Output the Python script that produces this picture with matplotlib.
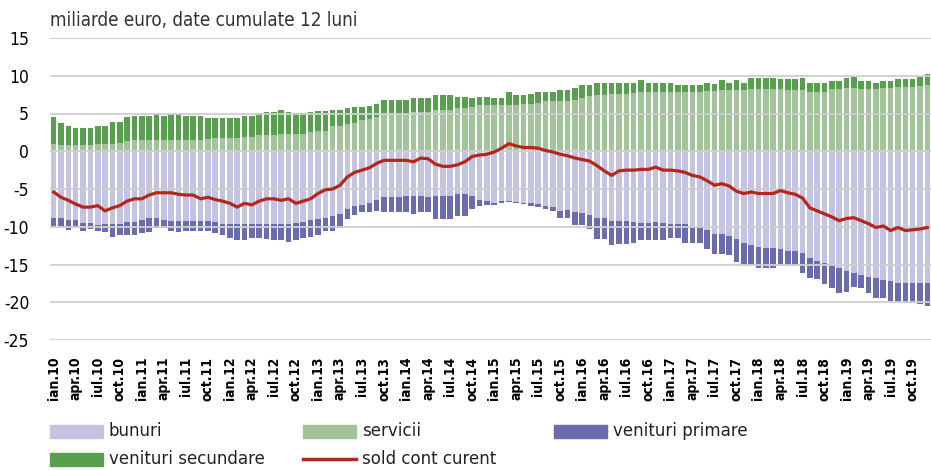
import os
import matplotlib
matplotlib.use("Agg")
import matplotlib.pyplot as plt
from matplotlib import font_manager
from matplotlib.font_manager import FontProperties
from matplotlib.patches import Rectangle
from matplotlib.lines import Line2D
import numpy as np

plt.rcParams["axes.unicode_minus"] = False

# monthly data, ian.2010 - dec.2019, miliarde euro (12-month cumulated)
years = list(range(10, 20))
month_abbr = ["ian", "feb", "mar", "apr", "mai", "iun", "iul", "aug", "sep", "oct", "nov", "dec"]
months = [f"{m}.{y}" for y in years for m in month_abbr]

bunuri = [
    -8.8, -8.8, -9.1, -9.1, -9.5, -9.5, -9.8, -9.6, -9.6, -9.6, -9.4, -9.4,
    -9.1, -8.9, -8.9, -9.1, -9.2, -9.2, -9.2, -9.2, -9.2, -9.3, -9.4, -9.6,
    -9.7, -9.7, -9.7, -9.6, -9.6, -9.6, -9.7, -9.6, -9.7, -9.5, -9.4, -9.1,
    -9.0, -8.8, -8.6, -8.3, -7.6, -7.3, -7.1, -6.8, -6.5, -6.1, -6.1, -6.0,
    -5.9, -5.9, -5.9, -6.0, -5.9, -5.9, -5.9, -5.7, -5.7, -5.9, -6.4, -6.6,
    -6.8, -6.6, -6.6, -6.7, -6.8, -6.8, -7.0, -7.2, -7.4, -7.9, -7.8, -8.0,
    -8.2, -8.4, -8.8, -8.8, -9.3, -9.3, -9.3, -9.4, -9.5, -9.5, -9.4, -9.5,
    -9.6, -9.6, -9.7, -10.0, -10.0, -10.4, -10.9, -10.9, -11.2, -11.6, -12.1, -12.4,
    -12.7, -12.8, -12.8, -13.0, -13.2, -13.2, -13.5, -14.1, -14.5, -14.8, -15.0, -15.4,
    -15.9, -16.1, -16.4, -16.7, -16.8, -17.0, -17.2, -17.4, -17.4, -17.4, -17.4, -17.4,
]
servicii = [
    1.0, 0.8, 0.8, 0.8, 0.8, 0.8, 0.9, 1.0, 1.0, 1.1, 1.4, 1.5,
    1.5, 1.5, 1.5, 1.5, 1.5, 1.5, 1.5, 1.5, 1.5, 1.6, 1.7, 1.7,
    1.7, 1.7, 1.9, 1.9, 2.1, 2.1, 2.1, 2.3, 2.3, 2.3, 2.3, 2.5,
    2.7, 2.7, 3.3, 3.4, 3.6, 3.8, 4.1, 4.3, 4.5, 4.9, 5.0, 5.0,
    5.0, 5.2, 5.2, 5.2, 5.4, 5.4, 5.4, 5.7, 5.7, 5.9, 6.1, 6.1,
    6.1, 6.1, 6.1, 6.1, 6.2, 6.3, 6.4, 6.6, 6.6, 6.6, 6.6, 6.8,
    7.1, 7.3, 7.4, 7.4, 7.6, 7.6, 7.6, 7.7, 7.8, 7.8, 7.8, 7.8,
    7.8, 7.8, 7.8, 7.8, 7.8, 8.0, 8.0, 8.1, 8.1, 8.1, 8.1, 8.2,
    8.2, 8.2, 8.2, 8.2, 8.1, 8.1, 8.1, 7.9, 7.9, 7.9, 8.2, 8.2,
    8.4, 8.4, 8.2, 8.2, 8.2, 8.4, 8.4, 8.45, 8.45, 8.45, 8.7, 8.8,
]
venituri_primare = [
    -1.2, -1.2, -1.3, -0.9, -1.0, -0.8, -0.7, -1.1, -1.7, -1.5, -1.7, -1.7,
    -1.7, -1.8, -1.3, -1.1, -1.3, -1.5, -1.3, -1.3, -1.3, -1.3, -1.4, -1.5,
    -1.8, -2.0, -2.0, -1.9, -1.9, -2.0, -2.0, -2.2, -2.3, -2.2, -2.1, -2.2,
    -2.1, -1.8, -1.9, -1.8, -1.4, -1.2, -1.0, -1.2, -1.4, -1.9, -1.9, -2.0,
    -2.1, -2.4, -2.2, -2.1, -3.1, -3.1, -3.1, -2.9, -2.9, -1.8, -0.9, -0.5,
    -0.3, -0.2, -0.1, -0.2, -0.2, -0.4, -0.4, -0.4, -0.5, -0.9, -1.0, -1.8,
    -1.6, -1.9, -2.8, -2.8, -3.1, -3.0, -3.0, -2.7, -2.3, -2.2, -2.4, -2.2,
    -1.9, -1.9, -2.5, -2.2, -2.2, -2.6, -2.7, -2.7, -2.6, -3.1, -2.9, -2.6,
    -2.7, -2.6, -2.6, -2.1, -1.8, -1.8, -2.6, -2.7, -2.4, -2.8, -3.1, -3.4,
    -2.7, -1.9, -1.7, -2.1, -2.6, -2.5, -2.7, -2.6, -2.7, -2.7, -2.8, -3.1,
]
venituri_secundare = [
    3.5, 2.9, 2.6, 2.3, 2.3, 2.3, 2.5, 2.4, 2.9, 2.8, 3.1, 3.2,
    3.2, 3.2, 3.4, 3.2, 3.5, 3.5, 3.2, 3.2, 3.2, 2.8, 2.7, 2.7,
    2.7, 2.7, 2.8, 2.8, 2.9, 3.1, 3.1, 3.2, 2.9, 2.7, 2.7, 2.7,
    2.6, 2.6, 2.2, 2.1, 2.1, 2.0, 1.8, 1.7, 1.8, 1.9, 1.8, 1.8,
    1.8, 1.9, 1.9, 1.9, 2.0, 2.0, 2.0, 1.5, 1.5, 1.2, 1.1, 1.1,
    0.9, 1.0, 1.7, 1.3, 1.2, 1.3, 1.4, 1.2, 1.2, 1.5, 1.5, 1.6,
    1.7, 1.5, 1.7, 1.7, 1.5, 1.5, 1.5, 1.4, 1.6, 1.3, 1.3, 1.3,
    1.2, 1.0, 1.0, 1.0, 1.0, 1.1, 0.9, 1.3, 1.0, 1.3, 1.0, 1.5,
    1.5, 1.5, 1.5, 1.4, 1.5, 1.5, 1.6, 1.2, 1.2, 1.2, 1.1, 1.1,
    1.3, 1.5, 1.1, 1.1, 0.9, 0.9, 0.9, 1.1, 1.1, 1.1, 1.2, 1.4,
]
sold_cont_curent = [
    -5.4, -6.1, -6.5, -7.0, -7.4, -7.4, -7.2, -7.9, -7.5, -7.2, -6.6, -6.3,
    -6.3, -5.8, -5.5, -5.5, -5.5, -5.7, -5.8, -5.8, -6.3, -6.1, -6.4, -6.6,
    -6.9, -7.4, -6.9, -7.1, -6.6, -6.3, -6.3, -6.5, -6.3, -6.9, -6.6, -6.3,
    -5.6, -5.1, -5.0, -4.5, -3.4, -2.8, -2.5, -2.2, -1.6, -1.2, -1.2, -1.2,
    -1.2, -1.4, -0.9, -1.0, -1.7, -2.0, -2.0, -1.8, -1.4, -0.7, -0.5, -0.4,
    -0.1, 0.4, 1.0, 0.7, 0.5, 0.5, 0.4, 0.1, -0.1, -0.4, -0.6, -0.9,
    -1.1, -1.3, -1.9, -2.6, -3.2, -2.6, -2.5, -2.5, -2.4, -2.4, -2.1, -2.5,
    -2.5, -2.6, -2.8, -3.2, -3.4, -3.9, -4.5, -4.3, -4.6, -5.3, -5.6, -5.4,
    -5.6, -5.6, -5.6, -5.2, -5.5, -5.7, -6.2, -7.5, -7.9, -8.3, -8.7, -9.2,
    -8.9, -8.8, -9.2, -9.6, -10.1, -9.9, -10.5, -10.1, -10.5, -10.4, -10.3, -10.1,
]

C_BUN = "#c4c3e1"
C_SERV = "#a3c49a"
C_PRIM = "#6b6cad"
C_SEC = "#58a04f"
C_SOLD = "#b3271c"


def _find_font(candidates, fallback):
    files = {os.path.basename(f.fname): f.fname for f in font_manager.fontManager.ttflist}
    for c in candidates:
        if c in files:
            return {"fname": files[c]}
    return {"family": fallback}


NARROW = _find_font(["LiberationSansNarrow-Regular.ttf", "NotoSans-SemiCondensed.ttf",
                     "NotoSans-Condensed.ttf", "DejaVuSansCondensed.ttf"], "Lato")
NARROW_B = _find_font(["LiberationSansNarrow-Bold.ttf", "NotoSans-SemiCondensedMedium.ttf",
                       "NotoSans-CondensedMedium.ttf", "DejaVuSansCondensed-Bold.ttf"], "Lato")


def fp(base, size, **kw):
    return FontProperties(size=size, **base, **kw)


fig = plt.figure(figsize=(9.31, 4.70), dpi=100)
ax = fig.add_axes([50 / 931, 1 - 340 / 470, 881 / 931, 302 / 470])

x = np.arange(len(months))
w = 0.76
ax.bar(x, bunuri, width=w, color=C_BUN, zorder=2)
ax.bar(x, venituri_primare, width=w, bottom=bunuri, color=C_PRIM, zorder=2)
ax.bar(x, servicii, width=w, color=C_SERV, zorder=2)
ax.bar(x, venituri_secundare, width=w, bottom=servicii, color=C_SEC, zorder=2)
ax.plot(x, sold_cont_curent, color=C_SOLD, linewidth=2.3, zorder=4,
        solid_joinstyle="round")

ax.set_xlim(-0.5, len(months) - 0.5)
ax.set_ylim(-25, 15)
ax.set_yticks(np.arange(-25, 16, 5))
ax.yaxis.grid(True, color="#cfcfcf", linewidth=1.3, zorder=3)
ax.set_axisbelow(False)
for s in ax.spines.values():
    s.set_visible(False)

ax.set_xticks(x[::3])
ax.set_xticklabels(months[::3], rotation=90, fontproperties=fp(NARROW_B, 10))
ax.tick_params(axis="x", length=0, pad=12)
ax.tick_params(axis="y", length=0, pad=15)
for lab in ax.get_yticklabels():
    lab.set_fontproperties(fp(NARROW, 12.5))

fig.text(50 / 931, 1 - 20 / 470, "miliarde euro, date cumulate 12 luni",
         fontproperties=fp(NARROW, 13.5), va="center", ha="left", color="#333333")

# legend drawn in figure pixels, three columns as in the original
legend_items = [
    (50, 431, "patch", C_BUN, "bunuri"),
    (303, 431, "patch", C_SERV, "servicii"),
    (554, 431, "patch", C_PRIM, "venituri primare"),
    (50, 459, "patch", C_SEC, "venituri secundare"),
    (303, 459, "line", C_SOLD, "sold cont curent"),
]
W, H = 931, 470
for px, py, kind, col, label in legend_items:
    if kind == "patch":
        fig.patches.append(Rectangle((px / W, (H - py - 6.5) / H), 53 / W, 13 / H,
                                     transform=fig.transFigure, color=col))
    else:
        fig.lines.append(Line2D([px / W, (px + 53) / W], [(H - py) / H] * 2,
                                transform=fig.transFigure, color=col, linewidth=2.5))
    fig.text((px + 59) / W, (H - py) / H, label, fontproperties=fp(NARROW, 13.3),
             va="center", ha="left", color="#222222")

fig.savefig("out.png", dpi=100)
